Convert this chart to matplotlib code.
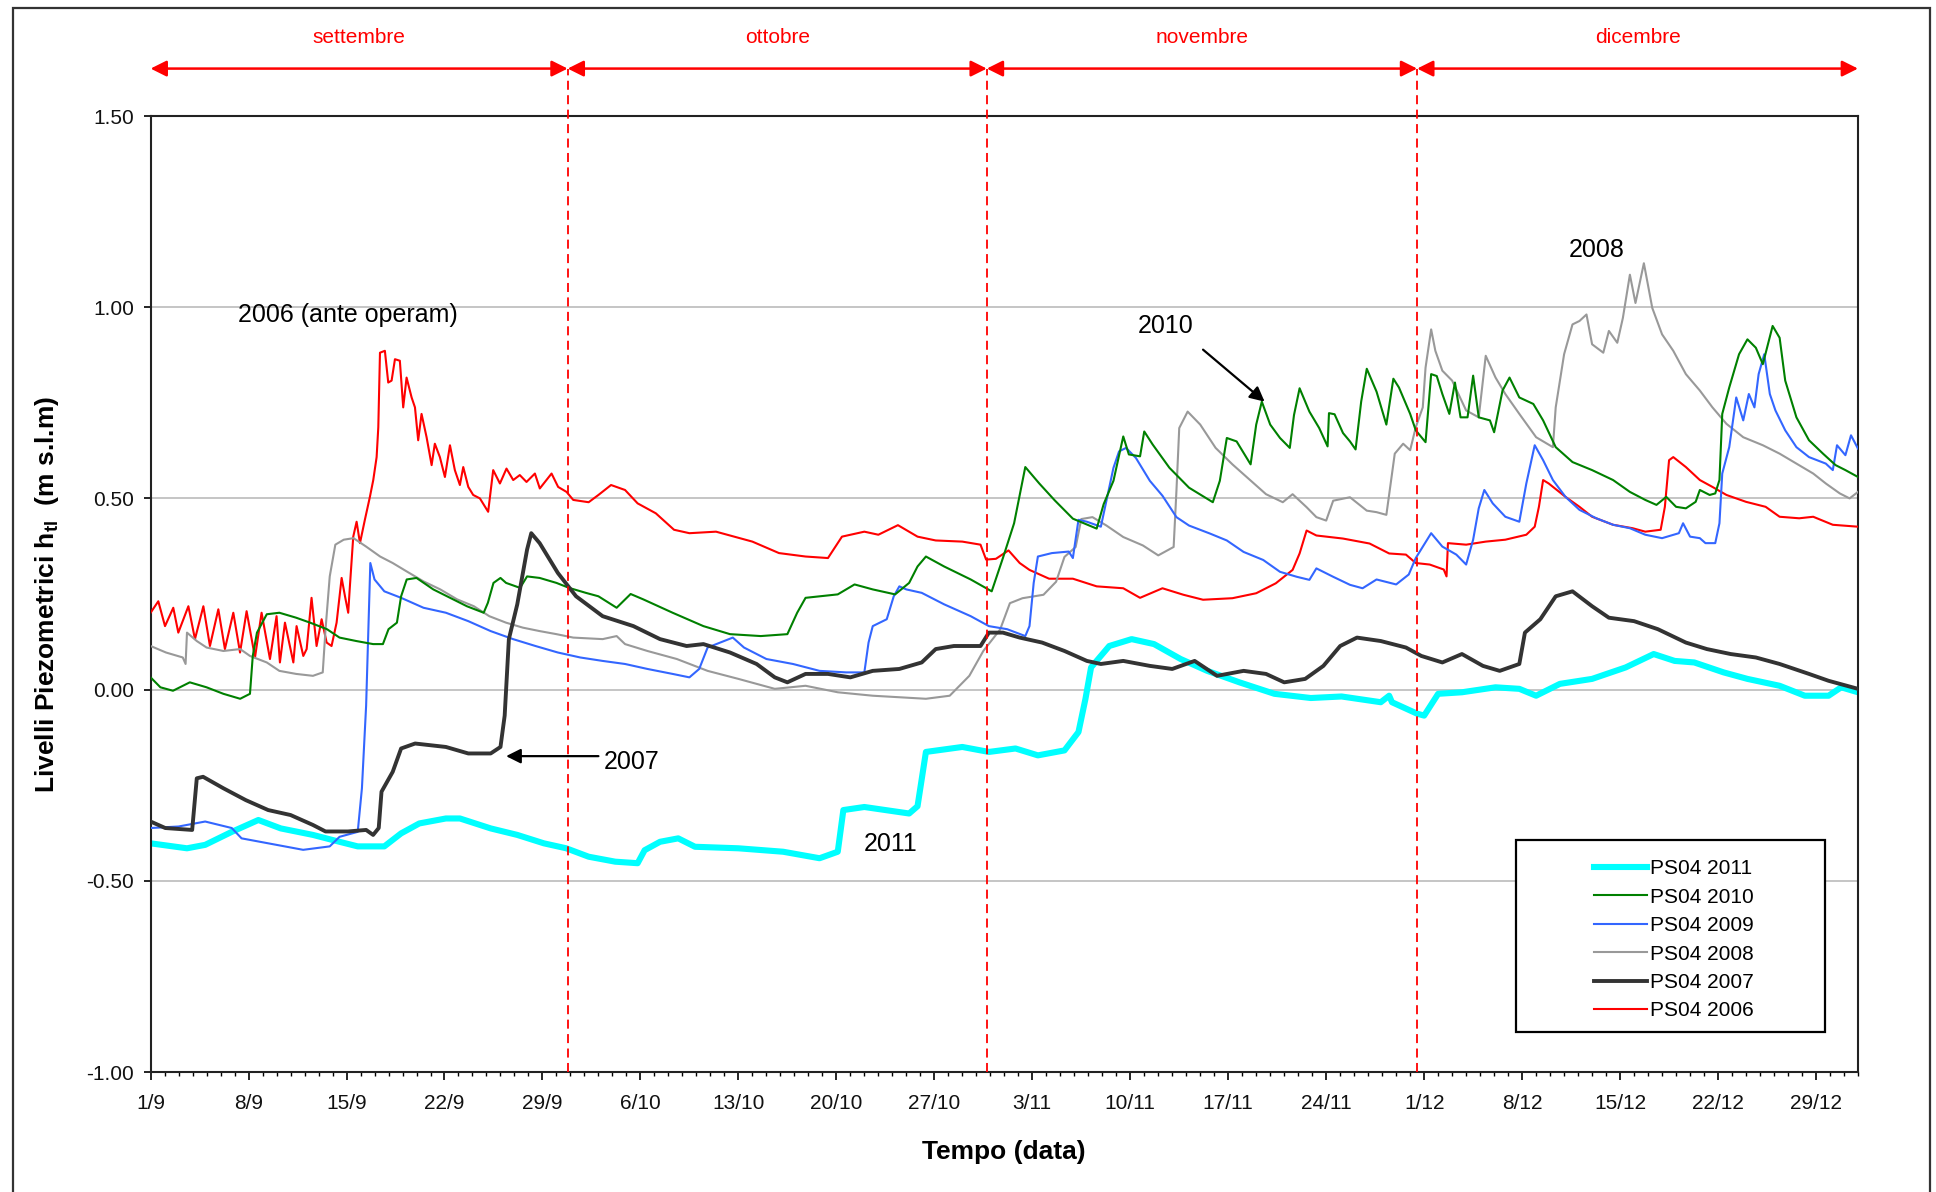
import matplotlib
matplotlib.use("Agg")
import matplotlib.pyplot as plt
from matplotlib.patches import Rectangle
from matplotlib.ticker import MultipleLocator, FixedLocator

plt.rcParams['font.family'] = ['Liberation Sans', 'DejaVu Sans']
plt.rcParams['axes.unicode_minus'] = False
plt.rcParams['mathtext.fontset'] = 'custom'
plt.rcParams['mathtext.rm'] = 'Liberation Sans'
plt.rcParams['mathtext.bf'] = 'Liberation Sans:bold'

# ---------------- data (day 0 = 1 September), pairs (day, level m s.l.m) ----------------
x_tick_days = [0, 7, 14, 21, 28, 35, 42, 49, 56, 63, 70, 77, 84, 91, 98, 105, 112, 119]
x_tick_labels = ["1/9", "8/9", "15/9", "22/9", "29/9", "6/10", "13/10", "20/10", "27/10",
                 "3/11", "10/11", "17/11", "24/11", "1/12", "8/12", "15/12", "22/12", "29/12"]
y_ticks = [-1.0, -0.5, 0.0, 0.5, 1.0, 1.5]
month_names = ["settembre", "ottobre", "novembre", "dicembre"]
month_bounds = [0, 29.8, 59.75, 90.5, 122]

red06 = [(0, 0.201), (0.55, 0.231), (1.03, 0.166), (1.62, 0.214), (1.98, 0.149), (2.7, 0.218),
         (3.17, 0.132), (3.77, 0.218), (4.24, 0.114), (4.84, 0.21), (5.31, 0.106), (5.91, 0.201),
         (6.39, 0.097), (6.86, 0.205), (7.46, 0.084), (7.93, 0.201), (8.53, 0.08), (9.0, 0.192),
         (9.24, 0.071), (9.6, 0.175), (10.2, 0.071), (10.43, 0.166), (10.91, 0.088),
         (11.15, 0.106), (11.5, 0.24), (11.86, 0.114), (12.22, 0.184), (12.58, 0.123),
         (12.93, 0.114), (13.29, 0.175), (13.65, 0.292), (13.89, 0.244), (14.12, 0.201),
         (14.24, 0.27), (14.48, 0.40), (14.72, 0.439), (14.96, 0.383), (15.31, 0.444),
         (15.67, 0.504), (15.91, 0.548), (16.15, 0.608), (16.27, 0.686), (16.39, 0.881),
         (16.74, 0.886), (16.98, 0.803), (17.22, 0.808), (17.46, 0.864), (17.81, 0.86),
         (18.05, 0.738), (18.29, 0.816), (18.65, 0.764), (18.89, 0.738), (19.12, 0.652),
         (19.36, 0.721), (19.72, 0.66), (20.08, 0.587), (20.31, 0.643), (20.67, 0.608),
         (21.03, 0.556), (21.39, 0.639), (21.74, 0.574), (22.1, 0.535), (22.34, 0.582),
         (22.7, 0.53), (23.05, 0.509), (23.53, 0.50), (24.12, 0.465), (24.48, 0.574),
         (24.96, 0.539), (25.43, 0.578), (25.91, 0.548), (26.38, 0.561), (26.86, 0.543),
         (27.46, 0.565), (27.81, 0.526), (28.65, 0.565), (29.12, 0.53), (29.72, 0.517),
         (30.2, 0.496), (31.3, 0.49), (32.0, 0.509), (32.9, 0.535), (33.9, 0.522),
         (34.8, 0.487), (36.1, 0.461), (37.4, 0.418), (38.5, 0.409), (40.4, 0.413),
         (43.0, 0.387), (44.9, 0.357), (46.8, 0.348), (48.4, 0.344), (49.4, 0.40),
         (51.0, 0.413), (52.0, 0.405), (53.4, 0.43), (54.8, 0.40), (56.1, 0.39), (58.0, 0.387),
         (59.3, 0.379), (59.7, 0.34), (60.4, 0.342), (61.3, 0.364), (62.1, 0.331),
         (62.8, 0.313), (64.2, 0.29), (65.9, 0.29), (67.6, 0.27), (69.5, 0.265), (70.7, 0.24),
         (72.3, 0.265), (73.8, 0.248), (75.2, 0.235), (77.3, 0.239), (79.0, 0.252),
         (80.4, 0.278), (81.6, 0.313), (82.1, 0.356), (82.6, 0.416), (83.3, 0.403),
         (85.2, 0.395), (87.1, 0.382), (88.5, 0.356), (89.7, 0.353), (90.4, 0.331),
         (91.4, 0.327), (92.4, 0.314), (92.6, 0.296), (92.7, 0.383), (94.0, 0.379),
         (95.4, 0.387), (96.8, 0.392), (98.3, 0.405), (98.9, 0.426), (99.2, 0.478),
         (99.5, 0.548), (99.9, 0.539), (101.1, 0.504), (102.1, 0.478), (103.0, 0.452),
         (104.5, 0.431), (105.9, 0.422), (106.8, 0.413), (107.9, 0.418), (108.2, 0.478),
         (108.5, 0.60), (108.8, 0.608), (109.7, 0.582), (110.7, 0.548), (111.6, 0.53),
         (112.6, 0.509), (114.0, 0.491), (115.4, 0.478), (116.4, 0.452), (117.8, 0.448),
         (118.8, 0.452), (120.2, 0.431), (122.0, 0.426)]

blk07 = [(0, -0.345), (1.05, -0.362), (2.97, -0.367), (3.3, -0.232), (3.75, -0.228),
         (5.2, -0.258), (6.8, -0.289), (8.4, -0.315), (10.0, -0.328), (11.6, -0.354),
         (12.5, -0.371), (14.1, -0.371), (15.4, -0.367), (15.9, -0.38), (16.3, -0.362),
         (16.5, -0.267), (17.3, -0.215), (17.9, -0.154), (18.9, -0.141), (21.1, -0.15),
         (22.7, -0.167), (24.3, -0.167), (25.0, -0.15), (25.3, -0.068), (25.6, 0.132),
         (26.2, 0.223), (26.9, 0.366), (27.2, 0.409), (27.8, 0.383), (29.1, 0.305),
         (30.4, 0.244), (32.3, 0.192), (34.5, 0.166), (36.4, 0.132), (38.3, 0.114),
         (39.5, 0.119), (41.4, 0.097), (43.3, 0.067), (44.6, 0.032), (45.5, 0.019),
         (46.8, 0.041), (48.4, 0.041), (50.0, 0.032), (51.6, 0.049), (53.5, 0.054),
         (55.1, 0.071), (56.1, 0.106), (57.4, 0.114), (59.3, 0.114), (59.9, 0.149),
         (60.9, 0.149), (62.1, 0.136), (63.7, 0.123), (65.3, 0.101), (66.9, 0.075),
         (67.9, 0.067), (69.5, 0.075), (71.4, 0.062), (73.0, 0.054), (74.6, 0.075),
         (76.2, 0.036), (78.1, 0.049), (79.7, 0.041), (81.0, 0.019), (82.5, 0.028),
         (83.8, 0.062), (85.0, 0.114), (86.2, 0.136), (87.9, 0.127), (89.7, 0.110),
         (90.8, 0.088), (92.3, 0.071), (93.7, 0.093), (95.2, 0.062), (96.4, 0.049),
         (97.8, 0.067), (98.2, 0.149), (99.3, 0.184), (100.4, 0.244), (101.6, 0.257),
         (103.0, 0.218), (104.2, 0.188), (106.0, 0.179), (107.7, 0.158), (109.7, 0.123),
         (111.2, 0.106), (112.9, 0.093), (114.7, 0.084), (116.4, 0.067), (118.5, 0.041),
         (119.9, 0.023), (122.0, 0.002)]

gry08 = [(0, 0.114), (1.1, 0.097), (2.3, 0.084), (2.5, 0.067), (2.6, 0.149), (3.3, 0.127),
         (4.0, 0.11), (5.2, 0.101), (6.4, 0.106), (7.1, 0.088), (8.3, 0.071), (9.2, 0.049),
         (10.4, 0.041), (11.6, 0.036), (12.3, 0.045), (12.5, 0.158), (12.8, 0.296),
         (13.2, 0.379), (13.8, 0.392), (14.5, 0.396), (15.4, 0.374), (16.4, 0.348),
         (17.3, 0.331), (18.3, 0.309), (19.5, 0.283), (20.7, 0.262), (21.9, 0.236),
         (23.1, 0.218), (24.2, 0.192), (25.4, 0.175), (26.6, 0.162), (27.8, 0.153),
         (29.0, 0.145), (30.2, 0.136), (32.3, 0.132), (33.3, 0.14), (33.9, 0.119),
         (35.5, 0.101), (37.6, 0.08), (39.8, 0.049), (42.0, 0.028), (44.6, 0.002),
         (46.8, 0.01), (49.1, -0.007), (51.6, -0.016), (53.5, -0.02), (55.4, -0.024),
         (57.1, -0.016), (58.5, 0.036), (59.5, 0.101), (60.7, 0.157), (61.4, 0.226),
         (62.3, 0.239), (63.8, 0.248), (64.7, 0.282), (65.3, 0.347), (66.1, 0.373),
         (66.5, 0.446), (67.3, 0.451), (68.3, 0.429), (69.5, 0.399), (70.9, 0.377),
         (72.0, 0.351), (73.1, 0.373), (73.3, 0.52), (73.5, 0.684), (74.1, 0.727),
         (75.0, 0.693), (76.1, 0.632), (77.3, 0.589), (78.5, 0.55), (79.7, 0.511),
         (80.9, 0.49), (81.6, 0.511), (82.6, 0.477), (83.3, 0.451), (84.0, 0.442),
         (84.5, 0.494), (85.7, 0.503), (86.9, 0.468), (87.6, 0.464), (88.3, 0.457),
         (88.9, 0.617), (89.5, 0.643), (90.0, 0.626), (90.4, 0.686), (90.9, 0.738),
         (91.1, 0.842), (91.5, 0.942), (91.8, 0.886), (92.3, 0.834), (93.0, 0.808),
         (94.0, 0.73), (94.9, 0.712), (95.4, 0.873), (96.1, 0.816), (96.8, 0.773),
         (97.8, 0.721), (99.0, 0.66), (100.2, 0.634), (100.4, 0.738), (101.0, 0.877),
         (101.6, 0.955), (102.1, 0.964), (102.6, 0.981), (103.0, 0.903), (103.8, 0.881),
         (104.2, 0.938), (104.8, 0.907), (105.2, 0.972), (105.7, 1.085), (106.1, 1.011),
         (106.7, 1.115), (107.3, 0.998), (108.0, 0.929), (108.8, 0.886), (109.7, 0.825),
         (110.7, 0.782), (111.6, 0.738), (112.6, 0.695), (113.8, 0.66), (115.2, 0.639),
         (116.4, 0.617), (117.6, 0.591), (118.8, 0.565), (119.7, 0.539), (120.7, 0.513),
         (121.4, 0.50), (122.0, 0.517)]

blu09 = [(0, -0.362), (2.0, -0.358), (3.9, -0.345), (4.9, -0.354), (5.8, -0.362),
         (6.5, -0.389), (8.4, -0.402), (10.9, -0.419), (12.8, -0.41), (13.5, -0.385),
         (14.8, -0.372), (15.1, -0.258), (15.4, -0.042), (15.7, 0.331), (16.0, 0.288),
         (16.7, 0.257), (17.9, 0.24), (19.5, 0.214), (21.1, 0.201), (22.7, 0.179),
         (24.3, 0.153), (25.9, 0.132), (27.5, 0.114), (29.1, 0.097), (30.7, 0.084),
         (32.3, 0.075), (33.9, 0.067), (35.5, 0.054), (37.3, 0.041), (38.5, 0.032),
         (39.2, 0.054), (39.8, 0.11), (41.6, 0.136), (42.4, 0.11), (44.0, 0.08), (45.9, 0.067),
         (47.8, 0.049), (49.7, 0.045), (51.0, 0.045), (51.3, 0.123), (51.6, 0.166),
         (52.6, 0.184), (53.1, 0.244), (53.5, 0.27), (54.0, 0.262), (55.1, 0.253),
         (56.7, 0.223), (58.6, 0.192), (59.9, 0.166), (61.2, 0.158), (62.5, 0.14),
         (62.8, 0.166), (63.1, 0.279), (63.4, 0.348), (64.4, 0.357), (65.6, 0.361),
         (65.9, 0.344), (66.3, 0.444), (66.9, 0.439), (67.9, 0.426), (68.4, 0.511),
         (68.8, 0.58), (69.2, 0.623), (69.7, 0.632), (70.4, 0.606), (71.4, 0.546),
         (72.3, 0.507), (73.3, 0.451), (74.2, 0.429), (75.7, 0.408), (76.9, 0.39),
         (78.1, 0.36), (79.5, 0.339), (80.7, 0.308), (81.9, 0.295), (82.8, 0.287),
         (83.3, 0.317), (84.5, 0.295), (85.7, 0.274), (86.6, 0.265), (87.6, 0.288),
         (89.0, 0.275), (89.9, 0.301), (90.4, 0.344), (91.5, 0.409), (92.3, 0.374),
         (93.3, 0.353), (94.0, 0.327), (94.5, 0.392), (94.9, 0.474), (95.3, 0.522),
         (95.9, 0.487), (96.8, 0.452), (97.8, 0.439), (98.3, 0.539), (98.9, 0.639),
         (99.5, 0.60), (100.2, 0.548), (101.1, 0.504), (102.1, 0.47), (103.3, 0.448),
         (104.5, 0.431), (105.7, 0.422), (106.8, 0.405), (108.0, 0.396), (109.2, 0.409),
         (109.5, 0.435), (110.0, 0.40), (110.7, 0.396), (111.1, 0.383), (111.8, 0.383),
         (112.1, 0.435), (112.3, 0.565), (112.8, 0.634), (113.3, 0.764), (113.8, 0.704),
         (114.2, 0.773), (114.6, 0.738), (114.9, 0.825), (115.3, 0.877), (115.7, 0.773),
         (116.1, 0.73), (116.8, 0.678), (117.6, 0.634), (118.5, 0.608), (119.7, 0.591),
         (120.2, 0.574), (120.5, 0.639), (121.1, 0.613), (121.5, 0.665), (122.0, 0.63)]

grn10 = [(0, 0.032), (0.7, 0.006), (1.6, -0.003), (2.8, 0.019), (4.0, 0.006), (5.2, -0.011),
         (6.4, -0.024), (7.1, -0.011), (7.3, 0.088), (7.6, 0.149), (8.3, 0.197), (9.2, 0.201),
         (10.4, 0.188), (11.4, 0.175), (12.6, 0.158), (13.5, 0.136), (14.7, 0.127),
         (15.9, 0.119), (16.6, 0.119), (17.0, 0.158), (17.6, 0.175), (17.9, 0.244),
         (18.3, 0.288), (19.0, 0.292), (20.2, 0.262), (21.4, 0.24), (22.6, 0.218),
         (23.8, 0.201), (24.1, 0.227), (24.5, 0.279), (25.0, 0.292), (25.4, 0.279),
         (26.4, 0.266), (26.9, 0.296), (27.8, 0.292), (29.0, 0.279), (29.9, 0.266),
         (31.1, 0.253), (32.0, 0.244), (33.3, 0.214), (34.3, 0.25), (35.2, 0.236),
         (37.3, 0.201), (39.5, 0.166), (41.4, 0.145), (43.6, 0.14), (45.5, 0.145),
         (46.2, 0.201), (46.8, 0.24), (49.1, 0.249), (50.3, 0.275), (51.6, 0.262),
         (53.2, 0.249), (54.2, 0.279), (54.8, 0.322), (55.4, 0.348), (56.7, 0.322),
         (58.6, 0.288), (60.1, 0.257), (60.9, 0.344), (61.7, 0.435), (62.5, 0.582),
         (63.5, 0.539), (64.6, 0.495), (65.9, 0.447), (67.6, 0.421), (68.1, 0.485),
         (68.8, 0.546), (69.5, 0.662), (69.9, 0.615), (70.7, 0.61), (71.0, 0.675),
         (71.6, 0.641), (72.8, 0.58), (74.2, 0.528), (75.9, 0.49), (76.4, 0.546),
         (76.9, 0.658), (77.6, 0.649), (78.6, 0.589), (79.0, 0.693), (79.4, 0.753),
         (80.0, 0.693), (80.7, 0.658), (81.4, 0.632), (81.7, 0.718), (82.1, 0.788),
         (82.8, 0.727), (83.5, 0.684), (84.1, 0.636), (84.2, 0.723), (84.6, 0.72),
         (85.2, 0.671), (85.7, 0.649), (86.1, 0.628), (86.5, 0.753), (86.9, 0.839),
         (87.6, 0.779), (88.3, 0.693), (88.8, 0.813), (89.2, 0.79), (90.0, 0.721),
         (90.4, 0.678), (91.1, 0.647), (91.5, 0.825), (91.9, 0.82), (92.3, 0.773),
         (92.8, 0.721), (93.2, 0.803), (93.6, 0.712), (94.1, 0.712), (94.5, 0.821),
         (94.9, 0.712), (95.7, 0.704), (96.0, 0.673), (96.6, 0.782), (97.1, 0.816),
         (97.8, 0.764), (98.8, 0.747), (99.5, 0.704), (100.4, 0.634), (101.6, 0.595),
         (103.0, 0.574), (104.5, 0.548), (105.7, 0.517), (106.8, 0.496), (107.6, 0.483),
         (108.3, 0.504), (109.0, 0.478), (109.7, 0.474), (110.4, 0.491), (110.7, 0.522),
         (111.4, 0.509), (111.8, 0.513), (112.1, 0.548), (112.3, 0.721), (112.8, 0.79),
         (113.5, 0.877), (114.1, 0.916), (114.7, 0.894), (115.2, 0.851), (115.5, 0.894),
         (115.9, 0.951), (116.4, 0.92), (116.8, 0.808), (117.6, 0.712), (118.5, 0.652),
         (119.5, 0.617), (120.4, 0.587), (121.1, 0.574), (122.0, 0.556)]

cyn11 = [(0, -0.402), (2.6, -0.415), (3.9, -0.406), (5.8, -0.372), (7.7, -0.341),
         (9.3, -0.363), (11.6, -0.38), (13.5, -0.398), (14.8, -0.41), (16.7, -0.41),
         (17.9, -0.376), (19.2, -0.35), (21.1, -0.337), (22.1, -0.337), (24.3, -0.363),
         (26.2, -0.38), (28.1, -0.402), (29.7, -0.415), (31.3, -0.437), (33.2, -0.45),
         (34.8, -0.454), (35.3, -0.42), (36.4, -0.398), (37.7, -0.389), (38.9, -0.411),
         (42.0, -0.415), (45.2, -0.424), (47.8, -0.441), (49.1, -0.424), (49.5, -0.315),
         (51.0, -0.307), (54.2, -0.324), (54.8, -0.305), (55.4, -0.163), (58.0, -0.15),
         (59.9, -0.163), (61.8, -0.154), (63.4, -0.172), (65.3, -0.159), (66.3, -0.111),
         (66.8, -0.024), (67.2, 0.058), (68.5, 0.114), (70.1, 0.132), (71.7, 0.119),
         (73.6, 0.08), (75.5, 0.049), (77.8, 0.019), (80.3, -0.011), (82.9, -0.022),
         (85.1, -0.018), (87.9, -0.033), (88.5, -0.016), (88.7, -0.033), (90.5, -0.063),
         (91.0, -0.068), (92.0, -0.011), (93.7, -0.007), (96.1, 0.006), (97.8, 0.002),
         (99.0, -0.016), (100.7, 0.015), (103.0, 0.028), (105.4, 0.058), (107.4, 0.093),
         (108.9, 0.075), (110.3, 0.071), (112.4, 0.045), (114.1, 0.028), (116.4, 0.010),
         (118.2, -0.016), (119.9, -0.016), (120.8, 0.006), (122.0, -0.007)]

series = [  # (label, data, colour, width, zorder)
    ('PS04 2006', red06, '#ff0000', 1.5, 3),
    ('PS04 2007', blk07, '#333333', 2.8, 4),
    ('PS04 2008', gry08, '#999999', 1.5, 3),
    ('PS04 2009', blu09, '#3366ff', 1.5, 3),
    ('PS04 2010', grn10, '#008000', 1.5, 3),
    ('PS04 2011', cyn11, '#00ffff', 4.4, 2),
]

# ---------------- figure ----------------
W, H = 1936, 1192
fig = plt.figure(figsize=(W / 100, H / 100), dpi=100)
fig.patch.set_facecolor('white')
ax = fig.add_axes([150.6 / W, 1 - 1072 / H, (1858 - 150.6) / W, (1072 - 116) / H])

fig.add_artist(Rectangle((13 / W, -0.02), (1930 - 13) / W, 1 - 8 / H + 0.02,
                         transform=fig.transFigure, fill=False, edgecolor='#333333',
                         linewidth=1.6))

for yv in [-0.5, 0.0, 0.5, 1.0]:
    ax.axhline(yv, color='#c0c0c0', lw=1.3, zorder=1)

for label, data, col, lw, z in series:
    xs, ys = zip(*data)
    ax.plot(xs, ys, color=col, lw=lw, zorder=z, label=label)

ax.set_xlim(0, 122)
ax.set_ylim(-1.0, 1.5)
ax.xaxis.set_major_locator(FixedLocator(x_tick_days))
ax.set_xticklabels(x_tick_labels)
ax.xaxis.set_minor_locator(MultipleLocator(1))
ax.set_yticks(y_ticks)
ax.set_yticklabels([f"{v:.2f}" for v in y_ticks])
ax.tick_params(axis='both', which='major', labelsize=15, direction='out', width=1.2,
               color='black', labelcolor='#111111')
ax.tick_params(axis='x', which='major', length=5.5, pad=10)
ax.tick_params(axis='x', which='minor', length=3, width=1.0)
ax.tick_params(axis='y', which='major', length=5, pad=7)
for s in ax.spines.values():
    s.set_linewidth(1.5)
    s.set_color('#222222')

ax.set_xlabel('Tempo (data)', fontsize=19, fontweight='bold', labelpad=20)
ax.set_ylabel('Livelli Piezometrici h$_{\\mathbf{tl}}$  (m s.l.m)', fontsize=19,
              fontweight='bold', labelpad=18)

y_arrow = 1.624
y_month = 1.705
for i, name in enumerate(month_names):
    a, b = month_bounds[i], month_bounds[i + 1]
    ax.annotate('', xy=(b, y_arrow), xytext=(a, y_arrow),
                arrowprops=dict(arrowstyle='<|-|>', color='#ff0000', lw=1.8,
                                mutation_scale=24, shrinkA=0, shrinkB=0),
                annotation_clip=False)
    ax.text((a + b) / 2, y_month, name, color='#ff0000', fontsize=15,
            ha='center', va='center', clip_on=False)
for xb in month_bounds[1:-1]:
    ax.plot([xb, xb], [-1.0, y_arrow], color='#ff0000', lw=1.3, ls=(0, (5, 3)),
            clip_on=False, zorder=5)

ax.text(6.27, 0.98, '2006 (ante operam)', fontsize=18, ha='left', va='center', zorder=6)
ax.text(103.3, 1.15, '2008', fontsize=18, ha='center', va='center', zorder=6)
ax.text(52.9, -0.405, '2011', fontsize=18, ha='center', va='center', zorder=6)
ax.text(72.5, 0.95, '2010', fontsize=18, ha='center', va='center', zorder=6)
ax.annotate('', xy=(79.6, 0.753), xytext=(75.2, 0.889),
            arrowprops=dict(arrowstyle='-|>', color='black', lw=1.6, mutation_scale=22,
                            shrinkA=0, shrinkB=0), zorder=6)
ax.text(32.4, -0.19, '2007', fontsize=18, ha='left', va='center', zorder=6)
ax.annotate('', xy=(25.4, -0.174), xytext=(32.0, -0.174),
            arrowprops=dict(arrowstyle='-|>', color='black', lw=1.6, mutation_scale=22,
                            shrinkA=0, shrinkB=0), zorder=6)

bx0, bx1 = (1516 - 150.6) / 1707.4, (1825 - 150.6) / 1707.4
by0, by1 = (1072 - 1032) / 956, (1072 - 840) / 956
ax.add_patch(Rectangle((bx0, by0), bx1 - bx0, by1 - by0, transform=ax.transAxes,
                       facecolor='white', edgecolor='black', lw=1.6, zorder=8))
handles, labels = ax.get_legend_handles_labels()
order = ['PS04 2011', 'PS04 2010', 'PS04 2009', 'PS04 2008', 'PS04 2007', 'PS04 2006']
hmap = dict(zip(labels, handles))
leg = ax.legend([hmap[k] for k in order], order, loc='center',
                bbox_to_anchor=((bx0 + bx1) / 2 + 0.002, (by0 + by1) / 2 - 0.004),
                frameon=False, fontsize=15, handlelength=2.5, handletextpad=0.15,
                labelspacing=0.45, borderpad=0.2)
leg.set_zorder(9)

fig.savefig('out.png', dpi=100)
